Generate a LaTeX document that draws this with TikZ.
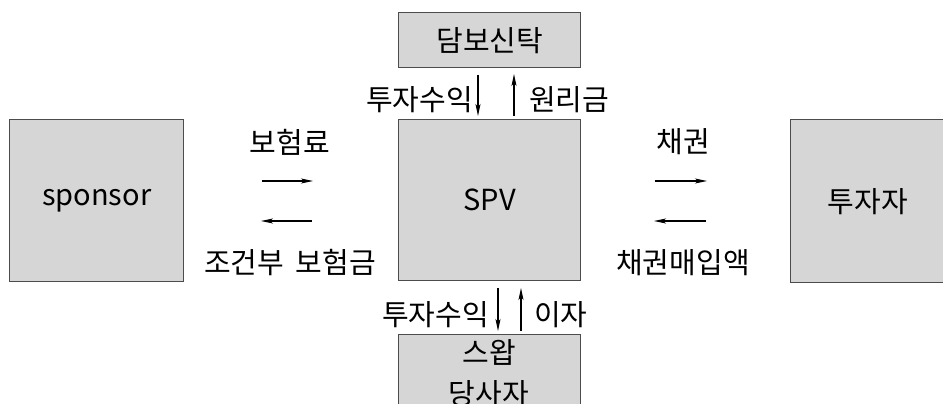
\documentclass[tikz,border=0pt]{standalone}
\usepackage{fontspec}
\setmainfont{Noto Sans CJK KR}
\usetikzlibrary{arrows.meta}
\begin{document}
\begin{tikzpicture}[x=1pt,y=-1pt,
  box/.style={draw=black!70,line width=1.4pt,fill=black!16,inner sep=0pt,anchor=north west},
  lbl/.style={font=\fontsize{29}{34}\selectfont,inner sep=0pt},
  flow/.style={line width=1.2pt,-{Stealth[length=12pt,width=5pt,inset=3pt]}}]
\useasboundingbox (0,0) rectangle (943,404);
\clip (0,0) rectangle (943,404);
\node[box,minimum width=182pt,minimum height=55pt] (trust) at (398,12) {};
\node[box,minimum width=182pt,minimum height=161pt] (spv) at (398,119) {};
\node[box,minimum width=174pt,minimum height=162pt] (sponsor) at (9,119) {};
\node[box,minimum width=154pt,minimum height=163pt] (inv) at (790,119) {};
\node[box,minimum width=182pt,minimum height=100pt] (swap) at (398,334) {};
\node[lbl] at (trust.center) {담보신탁};
\node[lbl] at (spv.center) {SPV};
\node[lbl] at (sponsor.center) {sponsor};
\node[lbl] at (inv.center) {투자자};
\node[lbl] at (489,352) {스왑};
\node[lbl] at (489,394) {당사자};
% top arrows
\coordinate (t1a) at (478,75); \coordinate (t1b) at (478,116);
\coordinate (t2a) at (514,116); \coordinate (t2b) at (514,74);
\draw[flow] (t1a) -- (t1b);
\draw[flow] (t2a) -- (t2b);
\node[lbl,anchor=east] (l1) at (473,100) {투자수익};
\node[lbl,anchor=west] (l2) at (529,100) {원리금};
% bottom arrows
\coordinate (b1a) at (498,288); \coordinate (b1b) at (498,331);
\coordinate (b2a) at (521,331); \coordinate (b2b) at (521,288);
\draw[flow] (b1a) -- (b1b);
\draw[flow] (b2a) -- (b2b);
\node[lbl,anchor=east] (l3) at (489,315) {투자수익};
\node[lbl,anchor=west] (l4) at (534,315) {이자};
% left arrows
\coordinate (p1a) at (262,181); \coordinate (p1b) at (313,181);
\coordinate (p2a) at (312,221); \coordinate (p2b) at (261,221);
\draw[flow] (p1a) -- (p1b);
\draw[flow] (p2a) -- (p2b);
\node[lbl] (l5) at (290,142) {보험료};
\node[lbl] (l6) at (290,263) {조건부\hspace{0.4em}보험금};
% right arrows
\coordinate (q1a) at (655,181); \coordinate (q1b) at (707,181);
\coordinate (q2a) at (706,221); \coordinate (q2b) at (654,221);
\draw[flow] (q1a) -- (q1b);
\draw[flow] (q2a) -- (q2b);
\node[lbl] (l7) at (683,142) {채권};
\node[lbl] (l8) at (683,263) {채권매입액};
\end{tikzpicture}
\end{document}
